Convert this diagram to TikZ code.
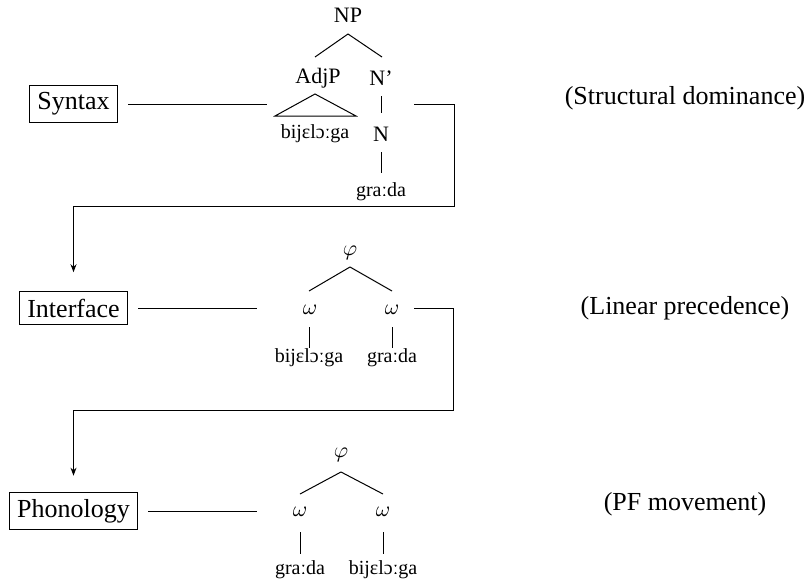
\documentclass[tikz,border=0pt]{standalone}
\usepackage{fontspec}
\setmainfont{Liberation Serif}
\usetikzlibrary{arrows.meta}
\begin{document}
\begin{tikzpicture}[x=0.5pt,y=-0.5pt,
  every path/.style={line width=0.5pt},
  lvl/.style={draw,inner xsep=4pt,inner ysep=3.5pt,font=\fontsize{13}{15}\selectfont},
  lab/.style={inner sep=0pt,font=\fontsize{13}{15}\selectfont},
  cat/.style={inner sep=0pt,font=\fontsize{11}{13}\selectfont},
  ipa/.style={inner sep=0pt,font=\fontsize{10}{12}\selectfont},
  arr/.style={-{Stealth[length=4pt,width=3pt]}}
]
\useasboundingbox (0,0) rectangle (809,584);

% level boxes
\node[lvl] (syn) at (73.5,104) {Syntax};
\node[lvl] (int) at (73.5,308) {Interface};
\node[lvl] (pho) at (73.5,511) {Phonology};

% right labels
\node[lab] (l1) at (685,98) {(Structural dominance)};
\node[lab] (l2) at (685,308) {(Linear precedence)};
\node[lab] (l3) at (685,504) {(PF movement)};

% ---------- Tree 1 (syntax)
\node[cat] (np) at (348,15) {NP};
\node[cat] (adjp) at (318,78) {AdjP};
\node[cat] (nbar) at (381,78) {N'};
\node[ipa] (w1) at (315,134) {bijɛlɔːga};
\node[cat] (n) at (381,134) {N};
\node[ipa] (g1) at (381,192) {graːda};
\coordinate (np-b) at (348,34);
\coordinate (adjp-t) at (315,57);
\coordinate (nbar-t) at (382,57);
\coordinate (tri-a) at (315,94);
\coordinate (tri-l) at (275,116);
\coordinate (tri-r) at (356,116);
\coordinate (nbar-b) at (381,96);
\coordinate (n-t) at (381,113);
\coordinate (n-b) at (381,152);
\coordinate (g1-t) at (381,173);
\draw (np-b) -- (adjp-t);
\draw (np-b) -- (nbar-t);
\draw (tri-a) -- (tri-l) -- (tri-r) -- cycle;
\draw (nbar-b) -- (n-t);
\draw (n-b) -- (g1-t);

% ---------- Tree 2 (interface)
\node[cat] (phi2) at (350,253) {$\varphi$};
\node[cat] (om2a) at (310,310) {$\omega$};
\node[cat] (om2b) at (392,310) {$\omega$};
\node[ipa] (w2a) at (309,358) {bijɛlɔːga};
\node[ipa] (w2b) at (392,358) {graːda};
\coordinate (phi2-b) at (350,267);
\coordinate (om2a-t) at (309,291);
\coordinate (om2b-t) at (392,291);
\coordinate (om2a-b) at (309,327);
\coordinate (w2a-t) at (309,348);
\coordinate (om2b-b) at (392,327);
\coordinate (w2b-t) at (392,348);
\draw (phi2-b) -- (om2a-t);
\draw (phi2-b) -- (om2b-t);
\draw (om2a-b) -- (w2a-t);
\draw (om2b-b) -- (w2b-t);

% ---------- Tree 3 (phonology)
\node[cat] (phi3) at (341,455) {$\varphi$};
\node[cat] (om3a) at (300,512) {$\omega$};
\node[cat] (om3b) at (383,512) {$\omega$};
\node[ipa] (w3a) at (300,570) {graːda};
\node[ipa] (w3b) at (383,570) {bijɛlɔːga};
\coordinate (phi3-b) at (341,472);
\coordinate (om3a-t) at (300,494);
\coordinate (om3b-t) at (383,494);
\coordinate (om3a-b) at (300,532);
\coordinate (w3a-t) at (300,554);
\coordinate (om3b-b) at (383,532);
\coordinate (w3b-t) at (383,554);
\draw (phi3-b) -- (om3a-t);
\draw (phi3-b) -- (om3b-t);
\draw (om3a-b) -- (w3a-t);
\draw (om3b-b) -- (w3b-t);

% ---------- connectors from boxes to trees
\coordinate (syn-e) at (267,104);
\coordinate (int-e) at (257,308);
\coordinate (pho-e) at (257,511);
\draw[shorten <=5pt] (syn.east) -- (syn-e);
\draw[shorten <=5pt] (int.east) -- (int-e);
\draw[shorten <=5pt] (pho.east) -- (pho-e);

% ---------- loops
\coordinate (loop1a) at (414,104);
\coordinate (loop1b) at (454,206);
\coordinate (loop2a) at (414,308);
\coordinate (loop2b) at (453,410);
\draw[arr,shorten >=9.5pt] (loop1a) -| (loop1b) -| (int.north);
\draw[arr,shorten >=8pt] (loop2a) -| (loop2b) -| (pho.north);
\end{tikzpicture}
\end{document}
